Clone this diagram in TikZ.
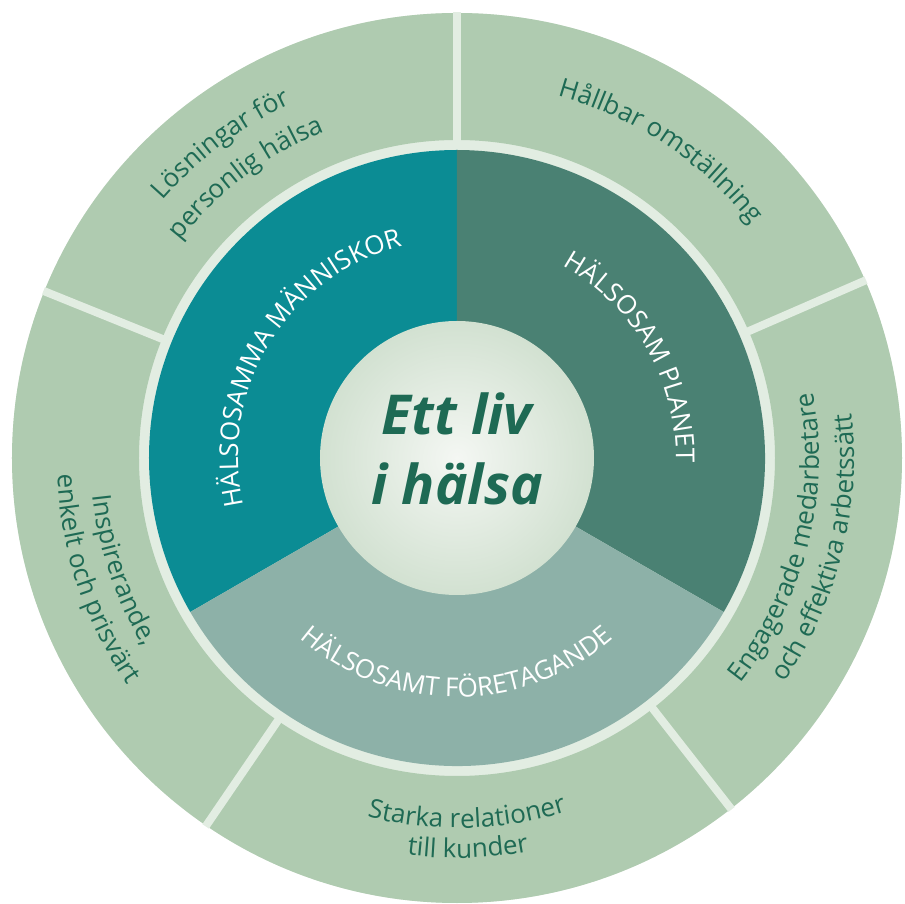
\documentclass[tikz,border=0pt]{standalone}
\usepackage{fontspec}
\setmainfont{Open Sans}
\usetikzlibrary{decorations.text}

\definecolor{ringgreen}{HTML}{AFCBB0}
\definecolor{gapgreen}{HTML}{E2EDE2}
\definecolor{tealsec}{HTML}{0B8C94}
\definecolor{planetsec}{HTML}{4A8173}
\definecolor{foresec}{HTML}{8DB1A8}
\definecolor{txtgreen}{HTML}{1E6A54}
\definecolor{centerin}{HTML}{F4F7F3}
\definecolor{centerout}{HTML}{D2E1D1}

\newcommand{\ringfont}{\fontsize{26}{31}\selectfont}
\newcommand{\secfont}{\fontsize{26}{31}\selectfont}

\begin{document}
\begin{tikzpicture}[x=1pt,y=1pt,
ringtext/.style={decorate,decoration={text along path,text align=center,text color=txtgreen,text={|\ringfont|#1}}},
sectext/.style={decorate,decoration={text along path,text align=center,text color=white,text={|\secfont|#1}}},
gapline/.style={draw=gapgreen,line width=8pt},
centertext/.style={text=txtgreen,font=\fontsize{55}{66}\selectfont\bfseries\itshape,anchor=base,inner sep=0pt}]

\useasboundingbox (-457,-446) rectangle (448,458);

%%% Outer ring and its gaps %%%%%
\fill[gapgreen] (0,0) circle[radius=445];
\fill[ringgreen,even odd rule] (0,0) circle[radius=445] circle[radius=318];
\draw[gapline] (90:312) -- (90:446);
\draw[gapline] (158:312) -- (158:446);
\draw[gapline] (23.5:312) -- (23.5:446);
\draw[gapline] (-52:312) -- (-52:446);
\draw[gapline] (235.7:312) -- (235.7:446);

%%% Inner sectors %%%%%
\fill[tealsec] (0,0) -- (90:308) arc[start angle=90,end angle=210,radius=308] -- cycle;
\fill[planetsec] (0,0) -- (-30:308) arc[start angle=-30,end angle=90,radius=308] -- cycle;
\fill[foresec] (0,0) -- (210:308) arc[start angle=210,end angle=330,radius=308] -- cycle;

%%% Center circle
\shade[inner color=centerin,outer color=centerout] (0,0) circle[radius=137];
\draw (0,23) node[centertext] (ett) {Ett liv};
\draw (0,-47) node[centertext] (halsa) {i hälsa};

%%% Sector labels
	%%% top ones run clockwise, the bottom one counter clockwise
	\path[sectext={HÄLSOSAMMA MÄNNISKOR}] (218.5:219) arc[start angle=218.5,end angle=78.5,radius=219];
	\path[sectext={HÄLSOSAM PLANET}] (100:219) arc[start angle=100,end angle=-40,radius=219];
	\path[sectext={HÄLSOSAMT FÖRETAGANDE}] (200:239) arc[start angle=200,end angle=340,radius=239];

%%% Ring labels
\path[ringtext={Lösningar för}] (187:391) arc[start angle=187,end angle=67,radius=391];
\path[ringtext={personlig hälsa}] (187:352) arc[start angle=187,end angle=67,radius=352];
\path[ringtext={Hållbar omställning}] (116.5:376) arc[start angle=116.5,end angle=-3.5,radius=376];
\path[ringtext={Engagerade medarbetare}] (-74:362) arc[start angle=-74,end angle=46,radius=362];
\path[ringtext={och effektiva arbetssätt}] (-74:397) arc[start angle=-74,end angle=46,radius=397];
\path[ringtext={Starka relationer}] (211.6:370) arc[start angle=211.6,end angle=331.6,radius=370];
\path[ringtext={till kunder}] (211.6:400) arc[start angle=211.6,end angle=331.6,radius=400];
\path[ringtext={Inspirerande,}] (138.5:366) arc[start angle=138.5,end angle=258.5,radius=366];
\path[ringtext={enkelt och prisvärt}] (138.5:400) arc[start angle=138.5,end angle=258.5,radius=400];

\end{tikzpicture}
\end{document}
